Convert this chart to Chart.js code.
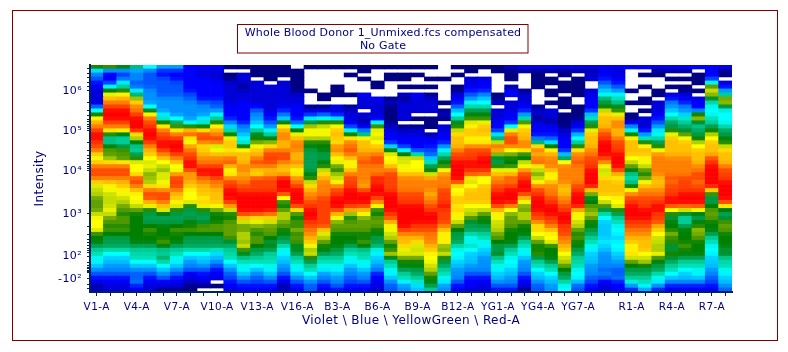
<!DOCTYPE html>
<html>
<head>
<meta charset="utf-8">
<title>Whole Blood Donor 1</title>
<script src="https://cdn.jsdelivr.net/npm/chart.js@4"></script>
<style>
  html, body { margin: 0; padding: 0; background: #fff; }
  canvas { display: block; }
</style>
</head>
<body>
<canvas id="heatChart" width="788" height="352"></canvas>
<script>
// ===== DATA =====
const titleLines = ['Whole Blood Donor 1_Unmixed.fcs compensated', 'No Gate'];
const xTitle = 'Violet \\ Blue \\ YellowGreen \\ Red-A';
const yTitle = 'Intensity';

const channelNames = [
    'V1-A','V2-A','V3-A','V4-A','V5-A','V6-A','V7-A','V8-A','V9-A','V10-A','V11-A','V12-A','V13-A','V14-A','V15-A','V16-A',
    'B1-A','B2-A','B3-A','B4-A','B5-A','B6-A','B7-A','B8-A','B9-A','B10-A','B11-A','B12-A','B13-A','B14-A',
    'YG1-A','YG2-A','YG3-A','YG4-A','YG5-A','YG6-A','YG7-A','YG8-A','YG9-A','YG10-A',
    'R1-A','R2-A','R3-A','R4-A','R5-A','R6-A','R7-A','R8-A'
];
const shownChannels = ['V1-A','V4-A','V7-A','V10-A','V13-A','V16-A','B3-A','B6-A','B9-A','B12-A','YG1-A','YG4-A','YG7-A','R1-A','R4-A','R7-A'];

// one string per channel, top row first, one character per intensity bin (0 = no events, h = densest)
const violetCells = [
    'c55433222247aeefghhggfecefgg' + 'fecccbbbbcddddaaa988776543312',
    'd33337adefghhhgfea88abbbefgg' + 'feddccccdcbbaba99987665543322',
    'c34478aeefghhhgfe9889bbaefgg' + 'feeddccbbabbaba99987665543322',
    'a4554478ceffghhhhdca889adddd' + 'ggfedddcbaaaaaaaa988876544533',
    '844444555579efgghhhgfeedcdcb' + 'cbefggeda999abaaa988876543322',
    '63344444555577aefgghhgfedcbd' + 'cddfggfed999aaaaba88987654321',
    '633344445555579aefghhhgfedcf' + 'gggfeedda999abaaa988776543321',
    '333333344555557afgdcffgghhge' + 'feedddda999aaba99987655432211',
    '322333333455577aeggfdeeffghh' + 'ffeeededa999bba99987665433210',
    '32223333344578aeefggbdeffghh' + 'gffeeeedbaaabba99986654332010',
    '10112222223333568adeedefgedd' + 'fgghhhgfcaabbbbb9988876544332',
    '10222122233333355677aeeeeffe' + 'ffgghhhhhgecbbccbdaa887765433',
    '11102222223455678aabdeefgfed' + 'gggghhhhhgddbbabba99887654433',
    '111102222222334578abefgggfee' + 'gggghhhhhfecbbba9a98887765433',
    '11102222223355aeeffeefggfeee' + 'hhhhgdaabccbbaa99877665543312',
    '0111111222333347adefffeefedd' + 'ffghhhhgeaabacabb9a9887765433'
];
const blueCells = [
    '100000100012379cddcaa999999a' + 'aceeffgghhhggffeedbda98876544',
    '10000001101247bcddcaaa99aace' + 'effffggggggggeccbaa9887755433',
    '10000111002236bdeeedffeddbac' + 'cdfgghhhgedbbbaaaa99887765543',
    '10100001001222337aeffgfeddef' + 'ggghhhhgfbabbbaaa988776554433',
    '110100032220221348eeeeffgfff' + 'ffeghhhgedbbbbaaba88877655433',
    '100011003222227bddcdeefggfff' + 'hghhhgfdaabbbaa99977665533322',
    '101100001211111223336adddefg' + 'gggghhhhhggeddccbaad988776544',
    '1011010212222201223337adcdde' + 'ffffggghhhhhhgfeeecdbaa988755',
    '10100103222201012233338dddde' + 'ffffggghhhhhggfeeccdbaa998866',
    '10010101222201110133344689ac' + 'ffffeffgghhhggfffeedddccbaa98',
    '000100000101210223335789aadf' + 'fffgggghggggfeddebbda99887755',
    '10100112334678aaceeeefgghhhh' + 'hgdddeededdcba999877766555433',
    '110223345789aaddeeddfggghhgg' + 'dcdeeeedccb999877876665543332',
    '100233356789aadeeeddfgghhhgg' + 'cdeeeeedcbaa99887766555543322'
];
const yellowGreenCells = [
    '1100000112022233378cgfb99ade' + 'ffgghhhgeddcccbba99a887766543',
    '2111013302223336efggfdbaaade' + 'gfghhhhfdbbbbaaaa988777665543',
    '31000012223358bdeeeffea9dcfg' + 'ghhhgedbbccbaaa98877655543321',
    '31111100001221233348ffefgdcb' + 'cdfgghhhhggfdedcbaab988766544',
    '31011011010222133346aeefffed' + 'defffgghhhggfedddaaaa98876655',
    '311011101110111122333368efff' + 'ffeeeffgghhhgggffeedccba99877',
    '31011111001111233678aeffgfff' + 'ffgghhhheddccbabaa99888777644',
    '312200223333689adeeeeffggghh' + 'hhheb9abbcbaa9988776665554433',
    '3233456799aceeeefgghhhhgfdcc' + 'eeeeedcb987666667665555454322',
    '3223345788aadeffeefggghhhhge' + 'deeeeddda98877767776655445333'
];
const redCells = [
    '30000010010011257aeeeeedcba8' + '88adfgghhhhggffeeddecba998853',
    '3010010011010222358aeeeddcba' + 'bdeffggghhhggffeeeedcca998875',
    '31100011022233457789adffffff' + 'eeeffgghhgggeedcccbeaa9987753',
    '3101010235567899adeeeeefffff' + 'gfggghhgda9aaacab99b998876533',
    '31010112335568899bdeeeefffff' + 'gggghhhgc9889aaaabaa988766533',
    '301110102333cc9899acdeeeeffg' + 'gfgghhhgd99aacbbaaaa988776533',
    '33337ccc98777889acdeeeegghhh' + 'hhhea99abbbaaa988777666554433',
    '31102358cc97777899aaceeeefgg' + 'ghhhhhge999bbbaaaa9a888776654'
];

// y axis runs in bins from the bottom edge
const yRowCount = 57;
const yLabelRows = [50.5, 40.5, 30.4, 19.6, 8.9, 3.3];
const yLabels = ['10\u2076', '10\u2075', '10\u2074', '10\u00B3', '10\u00B2', '-10\u00B2'];
const yMinorRows = [
    56.2, 54.9, 53.8, 52.7, 51.6,
    47.5, 45.5, 44.3, 43.4, 42.7, 42.1, 41.5, 41,
    37.5, 35.5, 34.3, 33.4, 32.7, 32, 31.5, 30.9,
    16.4, 14.5, 13.3, 12.4, 11.7, 11, 10.5, 10,
    7.3, 6.6, 6.2, 5.9, 5.5, 5.2, 4.9,
    1.9, 0.9
];

// colour per cell level
const levelChars = '123456789abcdefgh';
const levelColors = [
    [0, 0, 128], [0, 0, 216], [0, 0, 255], [0, 85, 255], [0, 144, 255], [0, 200, 255], [0, 255, 255], [0, 216, 168],
    [0, 160, 80], [0, 128, 0], [96, 160, 0], [196, 220, 0], [255, 255, 0], [255, 192, 0], [255, 128, 0], [255, 64, 0], [255, 0, 0]
];

// ===== BUILD =====
const channelCells = [...violetCells, ...blueCells, ...yellowGreenCells, ...redCells];

function levelAt(cells, row) {
    return row < 0 || row >= cells.length ? -1 : levelChars.indexOf(cells[row]);
}

// the original colour ramp is continuous, so soften each cell a little with the rows beside it
function cellColor(cells, row) {
    const own = levelAt(cells, row);
    if (own < 0) return 'rgba(255,255,255,0)';
    let sum = own * 3, weight = 3;
    [levelAt(cells, row - 1), levelAt(cells, row + 1)].forEach(function(level) {
        if (level >= 0) { sum += level; weight += 1; }
    });
    const pos = sum / weight;
    const low = levelColors[Math.floor(pos)];
    const high = levelColors[Math.ceil(pos)];
    const t = pos - Math.floor(pos);
    const mix = low.map(function(v, i) { return Math.round(v + (high[i] - v) * t); });
    return 'rgb(' + mix.join(',') + ')';
}

// bars stack upward, so the bottom row goes in first
const rowDatasets = [];
for (let row = yRowCount - 1; row >= 0; row--) {
    rowDatasets.push({
        data: channelCells.map(function() { return 1; }),
        backgroundColor: channelCells.map(function(cells) { return cellColor(cells, row); }),
        borderWidth: 0,
        barPercentage: 1,
        categoryPercentage: 1
    });
}

const navy = '#000080';
const axisColor = '#002060';

const framePlugin = {
    id: 'frames',
    beforeDraw: function(chart) {
        const c = chart.ctx;
        c.save();
        c.fillStyle = '#fff';
        c.fillRect(0, 0, 788, 352);
        c.strokeStyle = '#800000';
        c.lineWidth = 1;
        c.strokeRect(12.5, 10.5, 765, 330);
        c.strokeRect(237.5, 24.5, 290.5, 28.5);
        c.fillStyle = navy;
        c.font = '11px "DejaVu Sans"';
        c.letterSpacing = '0.2px';
        c.textAlign = 'center';
        c.textBaseline = 'middle';
        c.fillText(titleLines[0], 383, 33);
        c.fillText(titleLines[1], 383, 46);
        c.restore();
        c.letterSpacing = '0.4px';
    }
};

new Chart(document.getElementById('heatChart'), {
    type: 'bar',
    data: { labels: channelNames, datasets: rowDatasets },
    plugins: [framePlugin],
    options: {
        responsive: false,
        animation: false,
        devicePixelRatio: 1,
        layout: { padding: { left: 0, right: 56, top: 65, bottom: 0 } },
        plugins: {
            legend: { display: false },
            tooltip: { enabled: false }
        },
        scales: {
            x: {
                stacked: true,
                afterFit: function(scale) { scale.height = 60; },
                grid: { drawOnChartArea: false, offset: false, color: axisColor, tickLength: 4 },
                border: { color: axisColor, width: 2, z: 1 },
                title: { display: true, text: xTitle, color: navy, font: { family: '"DejaVu Sans"', size: 12 }, padding: { top: 0, bottom: 24 } },
                ticks: {
                    autoSkip: false,
                    maxRotation: 0,
                    padding: 5,
                    color: navy,
                    font: { family: '"DejaVu Sans"', size: 10.5 },
                    callback: function(value) {
                        const name = channelNames[value];
                        return shownChannels.includes(name) ? name : '';
                    }
                }
            },
            y: {
                stacked: true,
                min: 0,
                max: yRowCount,
                afterFit: function(scale) { scale.width = 90; },
                afterBuildTicks: function(scale) {
                    scale.ticks = yLabelRows.concat(yMinorRows).map(function(v) { return { value: v }; });
                },
                grid: { drawOnChartArea: false, color: axisColor, tickLength: 3 },
                border: { color: axisColor, width: 2, z: 1 },
                title: { display: true, text: yTitle, color: navy, font: { family: '"DejaVu Sans"', size: 12 }, padding: { top: 33, bottom: 0 } },
                ticks: {
                    autoSkip: false,
                    padding: 5,
                    color: navy,
                    font: { family: '"DejaVu Sans"', size: 11 },
                    callback: function(value) {
                        const i = yLabelRows.indexOf(value);
                        return i < 0 ? '' : yLabels[i];
                    }
                }
            }
        }
    }
});
</script>
</body>
</html>
